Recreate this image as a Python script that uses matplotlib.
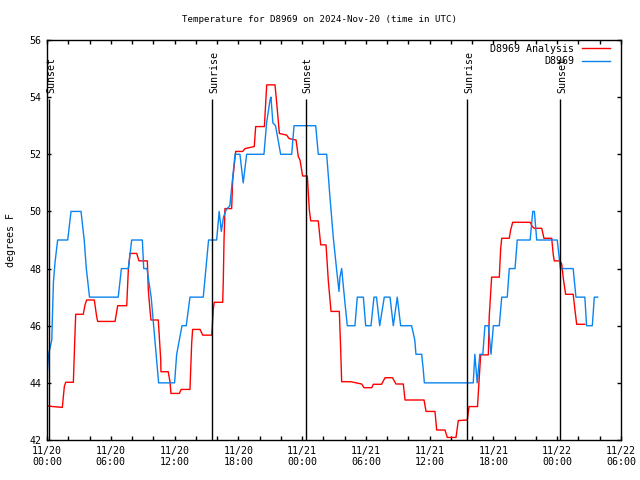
import matplotlib
matplotlib.use("Agg")
import matplotlib.pyplot as plt

# DATA

# hours since 2024-11-20 00:00 UTC, temperature in degrees F
analysis_hours = [
    0.0, 1.44, 1.63, 1.76, 2.48, 2.64, 2.7, 3.41, 3.57, 3.73, 4.45, 4.68, 4.77,
    6.4, 6.65, 7.5, 7.65, 7.81, 8.44, 8.65, 9.44, 9.53, 9.69, 9.78, 10.47, 10.7,
    10.72, 11.4, 11.57, 11.66, 12.45, 12.61, 13.45, 13.61, 13.7, 14.4, 14.65,
    15.5, 15.65, 15.74, 16.53, 16.59, 16.65, 16.74, 17.37, 17.47, 17.75, 18.41,
    18.63, 19.5, 19.63, 20.45, 20.67, 21.45, 21.67, 21.86, 22.55, 22.77, 23.43,
    23.64, 23.8, 24.05, 24.49, 24.68, 24.81, 25.52, 25.75, 26.25, 26.46, 26.72,
    27.5, 27.63, 27.72, 28.57, 29.6, 29.82, 30.55, 30.7, 31.48, 31.8, 32.5,
    32.83, 33.52, 33.68, 35.47, 35.66, 36.5, 36.66, 37.44, 37.66, 38.48, 38.69,
    39.54, 39.7, 40.5, 40.65, 40.8, 41.52, 41.6, 41.83, 42.55, 42.68, 42.78,
    43.49, 43.62, 43.81, 45.45, 45.66, 45.84, 46.54, 46.75, 47.48, 47.63, 47.72,
    48.26, 48.42, 48.57, 48.79, 49.5, 49.67, 49.83, 50.6,
]
analysis_temps = [
    43.19, 43.14, 43.87, 44.02, 44.02, 45.8, 46.4, 46.4, 46.72, 46.9, 46.9, 46.3,
    46.15, 46.15, 46.7, 46.7, 47.95, 48.53, 48.53, 48.27, 48.27, 47.25, 46.55,
    46.2, 46.2, 44.8, 44.39, 44.39, 44.04, 43.63, 43.63, 43.77, 43.77, 45.38,
    45.87, 45.87, 45.67, 45.67, 46.6, 46.82, 46.82, 47.66, 48.94, 50.1, 50.1,
    51.1, 52.1, 52.1, 52.2, 52.27, 52.97, 52.97, 54.43, 54.43, 53.55, 52.73,
    52.67, 52.55, 52.5, 51.92, 51.8, 51.24, 51.24, 50.05, 49.67, 49.67, 48.83,
    48.83, 47.6, 46.5, 46.5, 45.15, 44.04, 44.04, 43.96, 43.83, 43.83, 43.95,
    43.95, 44.18, 44.18, 43.96, 43.96, 43.4, 43.4, 43.0, 43.0, 42.35, 42.35,
    42.09, 42.09, 42.68, 42.7, 43.17, 43.17, 44.1, 44.98, 44.98, 46.3, 47.7,
    47.7, 48.7, 49.06, 49.06, 49.35, 49.62, 49.62, 49.47, 49.41, 49.41, 49.06,
    49.06, 48.48, 48.27, 48.27, 48.16, 47.66, 47.1, 47.1, 46.55, 46.05, 46.05,
]

station_hours = [
    0.0, 0.15, 0.45, 0.6, 0.75, 1.0, 1.95, 2.26, 3.2, 3.5, 3.7, 4.0, 6.7, 7.0,
    7.65, 7.97, 8.97, 9.1, 9.4, 9.8, 10.5, 12.0, 12.2, 12.7, 13.1, 13.45, 14.7,
    15.2, 15.96, 16.2, 16.4, 16.6, 16.85, 17.2, 17.69, 18.15, 18.46, 18.78,
    20.41, 20.66, 20.98, 21.07, 21.25, 21.5, 21.98, 23.02, 23.24, 25.28, 25.52,
    26.31, 26.62, 26.93, 27.25, 27.47, 27.56, 27.72, 28.03, 28.25, 28.97, 29.19,
    29.76, 29.98, 30.48, 30.76, 31.0, 31.3, 31.73, 32.27, 32.58, 32.95, 33.27,
    34.3, 34.6, 34.71, 35.25, 35.4, 35.5, 40.1, 40.25, 40.47, 40.72, 41.0, 41.2,
    41.52, 41.77, 41.99, 42.55, 42.78, 43.3, 43.49, 44.03, 44.24, 45.45, 45.7,
    45.85, 46.07, 48.0, 48.3, 49.5, 49.76, 50.6, 50.76, 51.3, 51.49, 51.8,
]
station_temps = [
    44.2, 45.0, 45.5, 47.5, 48.2, 49.0, 49.0, 50.0, 50.0, 49.0, 48.0, 47.0, 47.0,
    48.0, 48.0, 49.0, 49.0, 48.0, 48.0, 47.0, 44.0, 44.0, 45.0, 46.0, 46.0,
    47.0, 47.0, 49.0, 49.0, 50.0, 49.3, 49.8, 50.05, 50.2, 52.0, 52.0, 51.0,
    52.0, 52.0, 53.1, 53.9, 54.0, 53.1, 53.0, 52.0, 52.0, 53.0, 53.0, 52.0,
    52.0, 50.5, 49.1, 47.95, 47.2, 47.7, 48.0, 46.8, 46.0, 46.0, 47.0, 47.0,
    46.0, 46.0, 47.0, 47.0, 46.0, 47.0, 47.0, 46.0, 47.0, 46.0, 46.0, 45.5,
    45.0, 45.0, 44.45, 44.0, 44.0, 45.0, 44.0, 45.0, 45.0, 46.0, 46.0, 45.0,
    46.0, 46.0, 47.0, 47.0, 48.0, 48.0, 49.0, 49.0, 50.0, 50.0, 49.0, 49.0,
    48.0, 48.0, 47.0, 47.0, 46.0, 46.0, 47.0, 47.0,
]

event_hours  = [0.22, 15.55, 24.34, 39.54, 48.29]
event_labels = ["Sunset", "Sunrise", "Sunset", "Sunrise", "Sunset"]

tick_hours  = [0, 6, 12, 18, 24, 30, 36, 42, 48, 54]
tick_labels = ["11/20\n00:00", "11/20\n06:00", "11/20\n12:00", "11/20\n18:00",
               "11/21\n00:00", "11/21\n06:00", "11/21\n12:00", "11/21\n18:00",
               "11/22\n00:00", "11/22\n06:00"]


# PLOT

plt.rcParams["font.family"] = ["DejaVu Sans Mono"]

fig = plt.figure(figsize=(6.4, 4.8), dpi=100)
ax = fig.add_axes([47 / 640, 40 / 480, 574 / 640, 400 / 480])

ax.plot(analysis_hours, analysis_temps, color="#ff0000", linewidth=1.0,
        label="D8969 Analysis")
ax.plot(station_hours, station_temps, color="#0a84f0", linewidth=1.0,
        label="D8969")

ax.vlines(event_hours, 42, 53.93, color="black", linewidth=1.0)
for h, lab in zip(event_hours, event_labels):
    ax.text(h + 0.15, 54.15, lab, rotation=90, ha="center", va="bottom",
            fontsize=7.2)

ax.set_xlim(0, 54)
ax.set_ylim(42, 56)
ax.set_xticks(tick_hours)
ax.set_xticklabels(tick_labels)
ax.set_xticks(range(0, 55, 2), minor=True)
ax.set_yticks(range(42, 57, 2))
ax.tick_params(which="both", direction="in", top=True, right=True,
               length=3, width=1, labelsize=7.2, pad=4)
for s in ax.spines.values():
    s.set_linewidth(1.0)

ax.set_ylabel("degrees F", fontsize=7.2, labelpad=10)
fig.text(0.5, 1 - 20 / 480, "Temperature for D8969 on 2024-Nov-20 (time in UTC)",
         ha="center", va="center", fontsize=6.6)

# legend as gnuplot draws it: right-aligned text, sample line to the right
ax.legend(loc="upper right", bbox_to_anchor=(1 - 7 / 574, 1),
          markerfirst=False, frameon=False, fontsize=7.2,
          handlelength=2.8, handletextpad=0.8, labelspacing=0.25,
          borderaxespad=0.1, borderpad=0.3)

fig.savefig("out.png", dpi=100)
